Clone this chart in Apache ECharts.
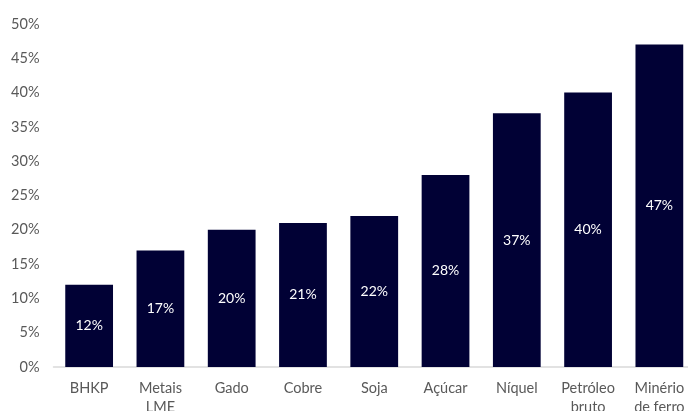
<!DOCTYPE html>
<html>
<head>
<meta charset="utf-8">
<script src="https://cdn.jsdelivr.net/npm/echarts@6/dist/echarts.min.js"></script>
<style>
  html, body { margin: 0; padding: 0; background: #ffffff; }
  #chart { width: 688px; height: 411px; }
</style>
</head>
<body>
<div id="chart"></div>
<script>
// Commodity categories (two-line labels where needed)
const categories = ['BHKP', 'Metais\nLME', 'Gado', 'Cobre', 'Soja', 'Açúcar', 'Níquel', 'Petróleo\nbruto', 'Minério\nde ferro'];
// Values in percent
const values = [12, 17, 20, 21, 22, 28, 37, 40, 47];
// Y-axis range (percent)
const yMin = 0;
const yMax = 50;
const yStep = 5;

const chart = echarts.init(document.getElementById('chart'), null, { renderer: 'canvas' });
const font = 'Lato, "Open Sans", sans-serif';

chart.setOption({
  animation: false,
  backgroundColor: '#ffffff',
  grid: {
    left: 53.5, width: 641.5, top: 24, bottom: 44,
    containLabel: false,
    outerBoundsMode: 'none'
  },
  xAxis: {
    type: 'category',
    data: categories,
    axisLine: { show: true, lineStyle: { color: '#d9d9d9', width: 1.5 } },
    axisTick: { show: false },
    axisLabel: {
      color: '#595959',
      fontFamily: font,
      fontSize: 14.5,
      lineHeight: 19,
      margin: 12,
      interval: 0
    }
  },
  yAxis: {
    type: 'value',
    min: yMin,
    max: yMax,
    interval: yStep,
    splitLine: { show: false },
    axisLine: { show: false },
    axisTick: { show: false },
    axisLabel: {
      color: '#595959',
      fontFamily: font,
      fontSize: 14.5,
      margin: 14,
      formatter: v => v + '%'
    }
  },
  series: [{
    type: 'bar',
    data: values,
    barWidth: '67%',
    itemStyle: { color: '#010135' },
    label: {
      show: true,
      position: 'inside',
      color: '#ffffff',
      fontFamily: font,
      fontSize: 14,
      formatter: p => p.value + '%'
    }
  }]
});
</script>
</body>
</html>
